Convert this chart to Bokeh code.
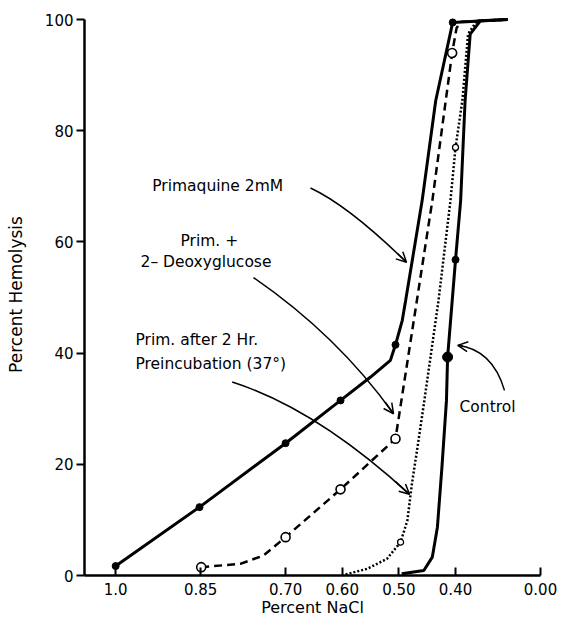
import numpy as np
from bokeh.plotting import figure
from bokeh.models import Range1d, FixedTicker, Label, Arrow, OpenHead
from bokeh.embed import file_html
from bokeh.resources import INLINE

# ---------------- data (Percent NaCl, Percent Hemolysis) ----------------
# axis is broken between 0.40 and 0.00 (0.40 -> 0.00 compressed)
x_tick_values = [1.0, 0.85, 0.70, 0.60, 0.50, 0.40, 0.00]
x_tick_labels = ["1.0", "0.85", "0.70", "0.60", "0.50", "0.40", "0.00"]
y_tick_values = [0, 20, 40, 60, 80, 100]

# Primaquine 2mM (solid, filled dots)
prim_pts_nacl = [1.00, 0.852, 0.70, 0.603, 0.506, 0.405]
prim_pts_pct = [1.7, 12.3, 23.8, 31.5, 41.5, 99.5]
prim_line_nacl = [1.00, 0.852, 0.70, 0.603, 0.550, 0.515, 0.506, 0.494, 0.488, 0.459, 0.435, 0.405, 0.155]
prim_line_pct = [1.7, 12.3, 23.8, 31.5, 35.7, 38.7, 41.5, 45.9, 49.5, 67.4, 85.4, 99.5, 100]

# Prim. + 2-Deoxyglucose (dashed, open circles)
dg_pts_nacl = [0.849, 0.70, 0.603, 0.506, 0.406]
dg_pts_pct = [1.5, 6.9, 15.5, 24.6, 94.0]
dg_line_nacl = [0.849, 0.780, 0.739, 0.70, 0.603, 0.506, 0.441, 0.406, 0.395, 0.376, 0.155]
dg_line_pct = [1.5, 2.1, 3.6, 6.9, 15.5, 24.6, 67.4, 94.0, 98.5, 99.6, 100]

# Prim. after 2 Hr. preincubation (dotted, small open circles)
pre_pts_nacl = [0.497, 0.400]
pre_pts_pct = [6.0, 77.0]
pre_line_nacl = [0.594, 0.556, 0.521, 0.497, 0.485, 0.477, 0.468, 0.455, 0.430, 0.409, 0.400, 0.368, 0.341, 0.299, 0.155]
pre_line_pct = [0.2, 1.2, 3.0, 6.0, 9.9, 16.5, 22.5, 31.5, 49.5, 67.4, 77.0, 85.4, 97.4, 99.8, 100]

# Control (solid, filled dots)
ctl_pts_nacl = [0.414, 0.400]
ctl_pts_pct = [39.3, 56.8]
ctl_line_nacl = [0.495, 0.456, 0.441, 0.432, 0.424, 0.416, 0.414, 0.400, 0.376, 0.355, 0.331, 0.283, 0.155]
ctl_line_pct = [0.3, 0.9, 3.3, 8.7, 19.5, 31.5, 39.3, 56.8, 67.4, 85.4, 97.4, 99.8, 100]


def to_pos(v):
    """Broken NaCl axis: linear down to 0.40, then 0.40..0.00 compressed."""
    v = np.asarray(v, dtype=float)
    return np.where(v >= 0.40, v, 0.25 + v * (0.15 / 0.40))


FONT = "DejaVu Sans"

p = figure(width=564, height=619, output_backend="svg", toolbar_location=None,
           x_range=Range1d(1.055, 0.25), y_range=Range1d(0, 101.1),
           min_border_left=84, min_border_right=24, min_border_top=13, min_border_bottom=44)
p.outline_line_color = None
p.grid.visible = False
p.background_fill_color = "white"

# axes
tick_pos = [float(t) for t in to_pos(x_tick_values)]
p.xaxis.ticker = FixedTicker(ticks=tick_pos)
p.xaxis.major_label_overrides = {tp: lab for tp, lab in zip(tick_pos, x_tick_labels)}
p.xaxis.axis_label = "Percent NaCl"
p.xaxis.major_tick_in = 8
p.xaxis.major_tick_out = 0
p.xaxis.minor_tick_line_color = None
p.xaxis.major_label_standoff = 7
p.xaxis.axis_label_standoff = 0

p.yaxis.ticker = FixedTicker(ticks=y_tick_values)
p.yaxis.bounds = (0, 100)
p.yaxis.axis_label = "Percent Hemolysis"
p.yaxis.major_tick_in = 0
p.yaxis.major_tick_out = 8
p.yaxis.minor_tick_line_color = None
p.yaxis.major_label_standoff = 3
p.yaxis.axis_label_standoff = 16

for ax in (p.xaxis, p.yaxis):
    ax.axis_line_width = 2.5
    ax.axis_line_color = "black"
    ax.major_tick_line_width = 2
    ax.major_tick_line_color = "black"
    ax.major_label_text_font = FONT
    ax.major_label_text_font_size = "15px"
    ax.major_label_text_color = "black"
    ax.axis_label_text_font = FONT
    ax.axis_label_text_font_style = "normal"
    ax.axis_label_text_color = "black"
p.xaxis.axis_label_text_font_size = "16px"
p.yaxis.axis_label_text_font_size = "17px"

# curves
p.line(to_pos(prim_line_nacl), prim_line_pct, line_width=3, line_color="black")
p.line(to_pos(dg_line_nacl), dg_line_pct, line_width=2.5, line_color="black", line_dash="8 5")
p.line(to_pos(pre_line_nacl), pre_line_pct, line_width=2.5, line_color="black", line_dash="2 2")
p.line(to_pos(ctl_line_nacl), ctl_line_pct, line_width=3, line_color="black")

# measured points
p.scatter(to_pos(prim_pts_nacl), prim_pts_pct, size=7, fill_color="black", line_color="black")
p.scatter(to_pos(dg_pts_nacl), dg_pts_pct, size=9, fill_color="white", line_color="black", line_width=1.6)
p.scatter(to_pos(pre_pts_nacl), pre_pts_pct, size=6, fill_color="white", line_color="black", line_width=1.3)
p.scatter(to_pos(ctl_pts_nacl), ctl_pts_pct, size=[10, 7], fill_color="black", line_color="black")

# annotation texts
labels = [
    ("Primaquine 2mM", 0.9355, 70.1),
    ("Prim. +", 0.8855, 60.1),
    ("2\u2013 Deoxyglucose", 0.9561, 56.35),
    ("Prim. after 2 Hr.", 0.965, 42.4),
    ("Preincubation (37\u00b0)", 0.965, 38.1),
    ("Control", 0.393, 30.4),
]
for txt, lx, ly in labels:
    p.add_layout(Label(x=lx, y=ly, text=txt, text_font=FONT, text_font_size="15.5px",
                       text_color="black", text_align="left", text_baseline="middle"))

# curved pointer arrows: (start x, start y, control x, control y, tip x, tip y)
arrows = [
    (0.656, 69.7, 0.5889, 66.5, 0.4866, 56.35),
    (0.7567, 53.6, 0.6084, 43.2, 0.5095, 29.1),
    (0.7943, 34.8, 0.6461, 30.0, 0.4813, 14.6),
    (0.3136, 33.3, 0.3347, 40.6, 0.396, 41.4),
]
p.quadratic(x0=[a[0] for a in arrows], y0=[a[1] for a in arrows],
            cx=[a[2] for a in arrows], cy=[a[3] for a in arrows],
            x1=[a[4] for a in arrows], y1=[a[5] for a in arrows],
            line_width=1.5, line_color="black")
for x0, y0, cx, cy, x1, y1 in arrows:
    sx = x1 + 0.15 * (cx - x1)
    sy = y1 + 0.15 * (cy - y1)
    p.add_layout(Arrow(end=OpenHead(size=10, line_width=1.5, line_color="black"),
                       x_start=sx, y_start=sy, x_end=x1, y_end=y1,
                       line_width=1.5, line_color="black"))

open("out.html", "w").write(file_html(p, INLINE))
